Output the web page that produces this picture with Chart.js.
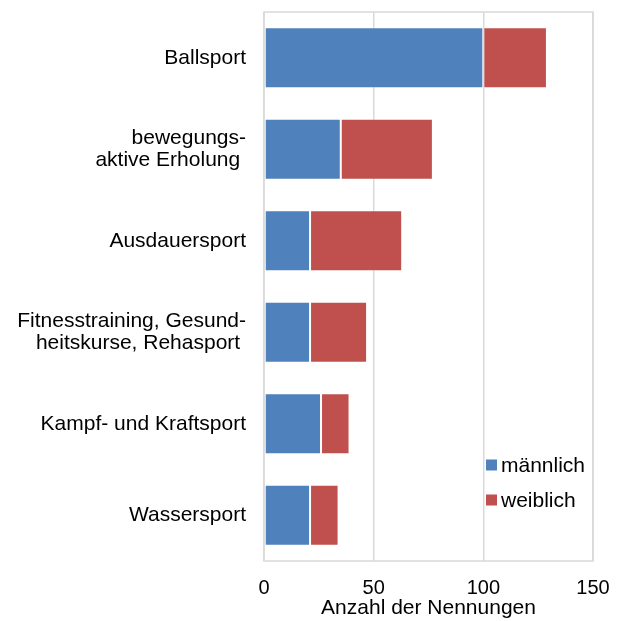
<!DOCTYPE html>
<html>
<head>
<meta charset="utf-8">
<script src="https://cdn.jsdelivr.net/npm/chart.js@4"></script>
<style>
  html, body { margin: 0; padding: 0; background: #fff; }
  #wrap { width: 618px; height: 621px; position: relative; }
</style>
</head>
<body>
<div id="wrap"><canvas id="sportChart"></canvas></div>
<script>
// categories (top to bottom)
var categories = [
    'Ballsport',
    ['bewegungs-', 'aktive Erholung '],
    'Ausdauersport',
    ['Fitnesstraining, Gesund-', 'heitskurse, Rehasport '],
    'Kampf- und Kraftsport',
    'Wassersport'
];
var maennlich = [100, 35, 21, 21, 26, 21];
var weiblich = [29, 42, 42, 26, 13, 13];
var xTicks = [0, 50, 100, 150];
var seriesNames = ['männlich', 'weiblich'];
var axisTitle = 'Anzahl der Nennungen';

var fontFamily = '"Liberation Sans", Arial, sans-serif';
var gridColor = '#d9d9d9';

// draws the border of the plot area
var plotBorder = {
    id: 'plotBorder',
    beforeDatasetsDraw: function (chart) {
        var a = chart.chartArea;
        var ctx = chart.ctx;
        ctx.save();
        ctx.strokeStyle = gridColor;
        ctx.lineWidth = 1.5;
        ctx.strokeRect(a.left, a.top, a.right - a.left, a.bottom - a.top);
        ctx.restore();
    }
};

// legend inside the plot, bottom right
var innerLegend = {
    id: 'innerLegend',
    afterDraw: function (chart) {
        var a = chart.chartArea;
        var ctx = chart.ctx;
        var x = a.right - 107;
        var y = a.bottom - 96;
        ctx.save();
        ctx.font = '21px ' + fontFamily;
        ctx.textBaseline = 'middle';
        chart.data.datasets.forEach(function (ds, i) {
            var cy = y + i * 35;
            ctx.fillStyle = ds.backgroundColor;
            ctx.fillRect(x, cy - 5.5, 11, 11);
            ctx.fillStyle = '#000';
            ctx.fillText(ds.label, x + 15, cy + 1);
        });
        ctx.restore();
    }
};

var ctx = document.getElementById('sportChart').getContext('2d');

var sportChart = new Chart(ctx, {
    type: 'bar',
    data: {
        labels: categories,
        datasets: [{
            label: seriesNames[0],
            data: maennlich,
            backgroundColor: '#4F81BD',
            borderColor: 'rgba(255,255,255,0.35)',
            borderWidth: 1,
            borderSkipped: false
        }, {
            label: seriesNames[1],
            data: weiblich,
            backgroundColor: '#C0504D',
            borderColor: 'rgba(255,255,255,0.35)',
            borderWidth: 1,
            borderSkipped: false
        }]
    },
    options: {
        indexAxis: 'y',
        responsive: true,
        maintainAspectRatio: false,
        animation: false,
        layout: {
            padding: { top: 12, right: 25, left: 0, bottom: 0 }
        },
        datasets: {
            bar: {
                barPercentage: 1,
                categoryPercentage: 0.667
            }
        },
        scales: {
            x: {
                stacked: true,
                min: 0,
                max: 150,
                afterBuildTicks: function (scale) {
                    scale.ticks = xTicks.map(function (v) { return { value: v }; });
                },
                afterFit: function (scale) {
                    scale.height = 60;
                    scale.paddingLeft = 0;
                    scale.paddingRight = 0;
                },
                border: { display: false },
                grid: {
                    color: gridColor,
                    lineWidth: 1.5,
                    drawTicks: false
                },
                ticks: {
                    color: '#000',
                    padding: 15,
                    maxRotation: 0,
                    font: { family: fontFamily, size: 20 }
                },
                title: {
                    display: true,
                    text: axisTitle,
                    color: '#000',
                    padding: 0,
                    font: { family: fontFamily, size: 21 }
                }
            },
            y: {
                stacked: true,
                afterFit: function (scale) {
                    scale.width = 264;
                    scale.paddingTop = 0;
                    scale.paddingBottom = 0;
                },
                border: { display: false },
                grid: { display: false, drawTicks: false },
                ticks: {
                    color: '#000',
                    padding: 18,
                    autoSkip: false,
                    font: { family: fontFamily, size: 21, lineHeight: 1.05 }
                }
            }
        },
        plugins: {
            title: { display: false },
            legend: { display: false },
            tooltip: { enabled: false }
        }
    },
    plugins: [plotBorder, innerLegend]
});
</script>
</body>
</html>
